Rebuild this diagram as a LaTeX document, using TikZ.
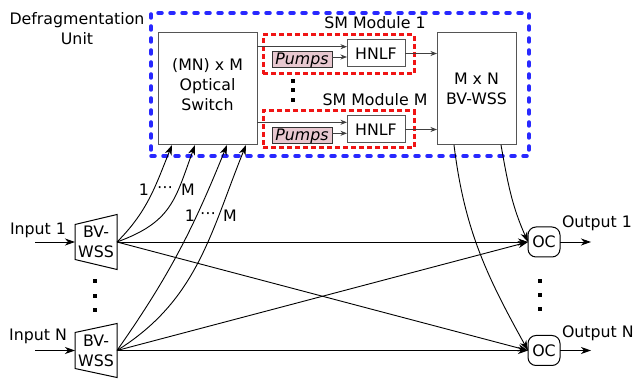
\documentclass[tikz,border=0pt]{standalone}
\usepackage{fontspec}
\setmainfont{DejaVu Sans}
\usetikzlibrary{arrows.meta,calc}
\definecolor{dblue}{RGB}{40,40,255}
\definecolor{dred}{RGB}{240,20,20}
\definecolor{pumpfill}{RGB}{232,200,208}
\definecolor{edgegray}{RGB}{85,85,85}
\begin{document}
\begin{tikzpicture}[x=1pt,y=1pt,
  every node/.style={font=\fontsize{15.8}{20}\selectfont, inner sep=0pt, outer sep=0pt},
  box/.style={draw=edgegray, line width=1pt, fill=white},
  bluebox/.style={draw=dblue, line width=3.5pt, dash pattern=on 4pt off 8pt, line cap=round},
  redbox/.style={draw=dred, line width=3pt, dash pattern=on 5pt off 3pt},
  pumpbox/.style={draw=black!80, line width=1pt, fill=pumpfill, font=\fontsize{15.8}{20}\selectfont\itshape},
  conn/.style={line width=0.9pt, -{Stealth[length=10pt,width=7pt,inset=3pt]}},
  sconn/.style={line width=0.9pt, draw=black!75, -{Stealth[length=6.5pt,width=5pt,inset=2pt]}},
  ocbox/.style={draw=black, line width=1pt, rounded corners=8pt, minimum width=32pt, minimum height=30pt},
  trap/.style={draw=black, line width=1pt},
]
\useasboundingbox (0,0) rectangle (636,379);

% defragmentation unit
\node[bluebox, minimum width=378pt, minimum height=143pt] (du) at (340,294.5) {};
\node[align=center] (dulabel) at (77,350.8) {Defragmentation\\Unit};

% optical switch
\node[box, minimum width=99pt, minimum height=112pt] (sw) at (207.5,290) {};
\node[align=center] (swtext) at ($(sw.center)+(0,4)$) {(MN) x M\\Optical\\Switch};

% SM modules
\node[redbox, minimum width=151pt, minimum height=39pt] (r1) at (338.5,324.5) {};
\node[redbox, minimum width=151pt, minimum height=37pt] (rM) at (338.5,249.5) {};
\node[box, minimum width=58pt, minimum height=27pt] (h1) at (376,325.5) {HNLF};
\node[box, minimum width=58pt, minimum height=27pt] (hM) at (376,249.5) {HNLF};
\node[pumpbox, minimum width=60pt, minimum height=16pt] (p1) at (302,319) {Pumps};
\node[pumpbox, minimum width=60pt, minimum height=16pt] (pM) at (302,243) {Pumps};
\node (lsm1) at (375,356) {SM Module 1};
\node (lsmM) at (375,279) {SM Module M};
\foreach \yy in {298,289,279} \fill (290.8,\yy-2.2) rectangle ++(4.4,4.4);

% M x N BV-WSS
\node[box, minimum width=79pt, minimum height=112pt, align=center] (mn) at (476.5,290) {M x N\\BV-WSS};

% internal connectors
\coordinate (h1a) at ($(h1.west)+(0,6.8)$);
\coordinate (hMa) at ($(hM.west)+(0,7.2)$);
\coordinate (p1o) at ($(p1.east)+(0,3)$);
\coordinate (pMo) at ($(pM.east)+(0,2.7)$);
\draw[sconn] (sw.east |- h1a) -- (h1a);
\draw[sconn] (sw.east |- hMa) -- (hMa);
\draw[sconn] (p1o) -- (p1o -| h1.west);
\draw[sconn] (pMo) -- (pMo -| hM.west);
\draw[sconn] (h1.east) -- (h1.east -| mn.west);
\draw[sconn] (hM.east) -- (hM.east -| mn.west);

% input BV-WSS
\node[minimum width=42pt, minimum height=55pt, align=center] (w1) at (96,137) {BV-\\WSS};
\draw[trap] ($(w1.north west)+(0,-10)$) -- (w1.north east) -- (w1.south east) -- ($(w1.south west)+(0,10)$) -- cycle;
\node[minimum width=42pt, minimum height=54pt, align=center] (w2) at (96,28.5) {BV-\\WSS};
\draw[trap] ($(w2.north west)+(0,-9)$) -- (w2.north east) -- (w2.south east) -- ($(w2.south west)+(0,9)$) -- cycle;
\foreach \yy in {98,83,69} \fill (92.8,\yy-2.2) rectangle ++(4.4,4.4);

\node (lin1) at (38,149) {Input 1};
\node (linN) at (38,42.3) {Input N};
\coordinate (in1) at (35,137);
\coordinate (inN) at (35,28.5);
\draw[conn] (in1) -- (w1.west);
\draw[conn] (inN) -- (w2.west);

% output couplers
\node[ocbox] (oc1) at (544,137) {OC};
\node[ocbox] (ocN) at (544,28.5) {OC};
\foreach \yy in {98,84,70} \fill (537.8,\yy-2.2) rectangle ++(4.4,4.4);
\coordinate (out1) at (591,137);
\coordinate (outN) at (591,28.5);
\draw[conn] (oc1.east) -- (out1);
\draw[conn] (ocN.east) -- (outN);
\node[anchor=west] (lout1) at (562,156) {Output 1};
\node[anchor=west] (loutN) at (562,46) {Output N};

% straight connectors
\draw[conn] (w1.east) -- (oc1.west);
\draw[conn] (w1.east) -- (ocN.west);
\draw[conn] (w2.east) -- (oc1.west);
\draw[conn] (w2.east) -- (ocN.west);

% curves to the switch
\draw[conn] (w1.east) to[out=45,in=-112] ($(sw.south west)+(14,0)$);
\draw[conn] (w1.east) to[out=20,in=-110,looseness=1.2] ($(sw.south west)+(37,0)$);
\draw[conn] (w2.east) to[out=55,in=-112] ($(sw.south west)+(69,0)$);
\draw[conn] (w2.east) to[out=32,in=-112] ($(sw.south west)+(88,0)$);
\node (la1) at (144,189) {1};
\node (lad) at (165,189) {⋯};
\node (laM) at (188,189) {M};
\node (lb1) at (190,163) {1};
\node (lbd) at (208,163) {⋯};
\node (lbM) at (230,163) {M};

% curves from M x N BV-WSS
\draw[conn] ($(mn.south west)+(17,0)$) to[out=-83,in=119] (ocN.west);
\draw[conn] ($(mn.south west)+(64,0)$) to[out=-80,in=114] (oc1.west);
\end{tikzpicture}
\end{document}
